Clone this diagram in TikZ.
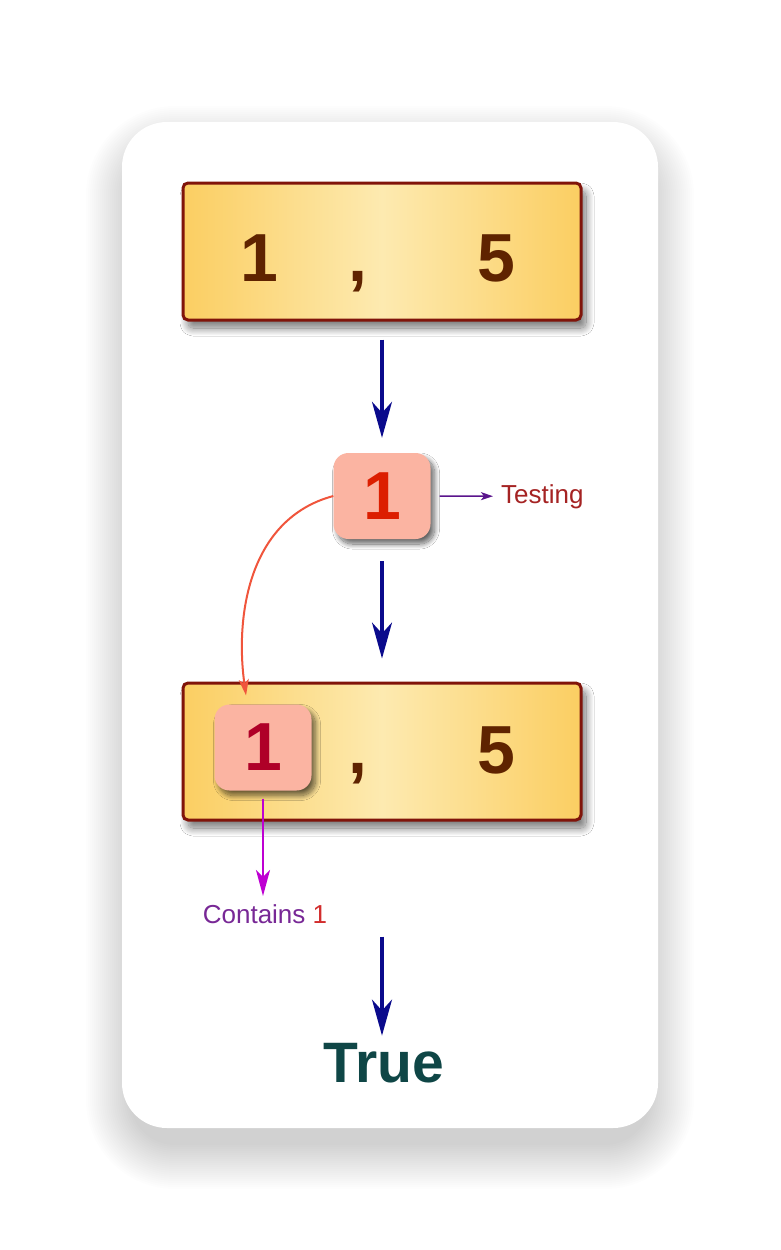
\documentclass[tikz,border=0pt]{standalone}
\usepackage{fontspec}
\setmainfont{Liberation Sans}
\usetikzlibrary{arrows.meta,shadows.blur}

\definecolor{boxline}{RGB}{128,20,10}
\definecolor{boxedge}{RGB}{251,206,98}
\definecolor{boxmid}{RGB}{253,234,176}
\definecolor{digitbrown}{RGB}{95,35,0}
\definecolor{flowblue}{RGB}{10,10,140}
\definecolor{tilepink}{RGB}{251,180,162}
\definecolor{tilered}{RGB}{220,30,0}
\definecolor{tiledark}{RGB}{175,0,40}
\definecolor{curvered}{RGB}{240,85,60}
\definecolor{testpurple}{RGB}{90,20,140}
\definecolor{testred}{RGB}{165,35,35}
\definecolor{hitmagenta}{RGB}{190,0,210}
\definecolor{hitpurple}{RGB}{120,40,150}
\definecolor{hitred}{RGB}{210,45,45}
\definecolor{trueteal}{RGB}{15,70,70}

\begin{document}
\begin{tikzpicture}
  [x=1pt,y=-1pt,
   numbox/.style={draw=boxline, line width=3pt, rounded corners=5pt,
     left color=boxedge, right color=boxedge, middle color=boxmid,
     minimum width=398pt, minimum height=137pt,
     blur shadow={shadow xshift=5pt, shadow yshift=-8pt,
       shadow blur radius=8pt, shadow blur steps=20, shadow opacity=55}},
   tile/.style={fill=tilepink, rounded corners=15pt, inner sep=0pt,
     minimum width=97pt, minimum height=86pt,
     blur shadow={shadow xshift=4pt, shadow yshift=-5pt,
       shadow blur radius=5pt, shadow blur steps=15, shadow opacity=60}},
   digit/.style={font=\bfseries\fontsize{68pt}{68pt}\selectfont,
     text=digitbrown, inner sep=0pt, anchor=base},
   note/.style={font=\fontsize{26pt}{26pt}\selectfont, inner sep=0pt,
     anchor=base}]
  \useasboundingbox (0,0) rectangle (780,1250);
  \fill[white] (0,0) rectangle (780,1250);
  % soft card shadow
  \foreach \s in {0,2,...,44}
    \fill[black, opacity=0.0065, rounded corners=45pt+\s pt]
      (130-\s,150-\s) rectangle (650+\s,1145+\s);
  \fill[white, rounded corners=45pt] (122,122) rectangle (658,1128);
  % first list
  \node[numbox] (top) at (382,251.5) {};
  \node[digit] (topA) at (259,281) {1};
  \node[digit] (topC) at (358,281) {,};
  \node[digit] (topB) at (496,281) {5};
  % item under test
  \node[tile, font=\bfseries\fontsize{68pt}{68pt}\selectfont,
    text=tilered] (test) at (382,496) {1};
  \node[note, text=testred, anchor=base west] (testing) at (501,503) {Testing};
  % second list
  \node[numbox] (low) at (382,751.5) {};
  \node[tile, font=\bfseries\fontsize{68pt}{68pt}\selectfont,
    text=tiledark] (lowA) at (263,747.5) {1};
  \node[digit] (lowC) at (358,773) {,};
  \node[digit] (lowB) at (496,773) {5};
  \node[note, text=hitpurple] (hit) at (265,923) {Contains \textcolor{hitred}{1}};
  \node[font=\bfseries\fontsize{57pt}{57pt}\selectfont,
    text=trueteal, inner sep=0pt, anchor=base] (res) at (384,1082) {True};
  \begin{scope}[line width=3.2pt, flowblue,
      -{Stealth[length=36pt, width=20pt, inset=11pt]}]
  \foreach \from/\to/\a/\b in {top/test/18/15, test/low/22/23, low/res/115/7}
     \draw[shorten <=\a pt, shorten >=\b pt] (\from) -- (\from |- \to.north);
  \end{scope}
  \draw[testpurple, line width=1.6pt,
    -{Stealth[length=12pt, width=8pt, inset=3pt]},
    shorten <=9pt, shorten >=8pt] (test) -- (testing);
  \draw[curvered, line width=2pt,
    -{Stealth[length=16pt, width=10pt, inset=4pt]}, shorten >=9pt]
    (test.west) to[out=195, in=98] (lowA.110);
  \draw[hitmagenta, line width=2.4pt,
    -{Stealth[length=26pt, width=14pt, inset=7pt]},
    shorten <=8pt, shorten >=8pt] (lowA) -- (lowA |- hit.north);
\end{tikzpicture}
\end{document}
